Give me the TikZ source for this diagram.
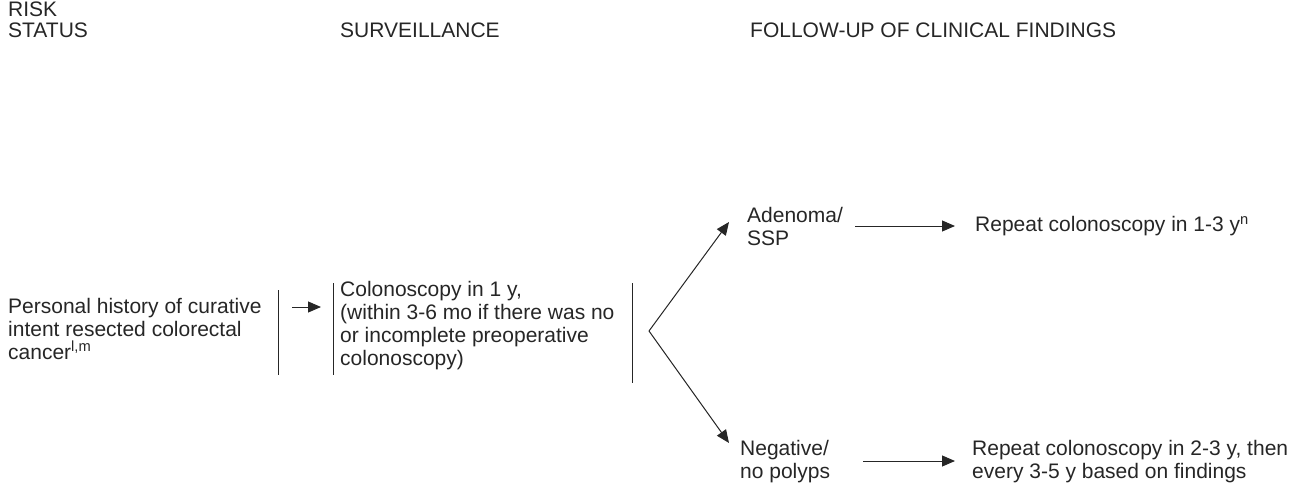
\documentclass[tikz,border=0pt]{standalone}
\usepackage{fontspec}
\setmainfont{Liberation Sans}
\usetikzlibrary{arrows.meta}
\begin{document}
\begin{tikzpicture}[x=1pt,y=-1pt,
  txt/.style={anchor=west,align=left,inner sep=0pt,font=\fontsize{21}{23}\selectfont,text=black!85},
  head/.style={txt,font=\fontsize{21}{21}\selectfont},
  bar/.style={line width=1pt,black!85},
  flow/.style={line width=1pt,black!85,-{Triangle[length=13pt,width=11pt]}}]
\useasboundingbox (0,0) rectangle (1304,490);
% column headings
\node[head] (hrisk) at (8,20) {RISK\\STATUS};
\node[head] (hsurv) at (340,30) {SURVEILLANCE};
\node[head] (hfollow) at (750,30) {FOLLOW-UP OF CLINICAL FINDINGS};
% risk status
\node[txt] (risk) at (8,329) {Personal history of curative\\intent resected colorectal\\cancer\textsuperscript{l,m}};
\coordinate (b1t) at (278,290); \coordinate (b1b) at (278,375);
\draw[bar] (b1t) -- (b1b);
% surveillance
\coordinate (b2t) at (333,283); \coordinate (b2b) at (333,375);
\draw[bar] (b2t) -- (b2b);
\node[txt] (surv) at (340,325.5) {Colonoscopy in 1 y,\\(within 3-6 mo if there was no\\or incomplete preoperative\\colonoscopy)};
\coordinate (a1s) at (292,307); \coordinate (a1e) at (321,307);
\draw[flow] (a1s) -- (a1e);
\coordinate (b3t) at (632,283); \coordinate (b3b) at (632,383);
\draw[bar] (b3t) -- (b3b);
% branches
\coordinate (fork) at (649,331);
\node[txt] (aden) at (747,226.5) {Adenoma/\\SSP};
\node[txt] (neg) at (740,462) {Negative/\\no polyps};
\coordinate (up) at (729,222); \coordinate (down) at (729,443);
\draw[flow] (fork) -- (up);
\draw[flow] (fork) -- (down);
% follow-up
\node[txt] (rep1) at (975,226) {Repeat colonoscopy in 1-3 y\textsuperscript{n}};
\node[txt] (rep2) at (972,461.5) {Repeat colonoscopy in 2-3 y, then\\every 3-5 y based on findings};
\coordinate (a2s) at (855,226); \coordinate (a2e) at (955,226);
\draw[flow] (a2s) -- (a2e);
\coordinate (a3s) at (863,461); \coordinate (a3e) at (955,461);
\draw[flow] (a3s) -- (a3e);
\end{tikzpicture}
\end{document}
